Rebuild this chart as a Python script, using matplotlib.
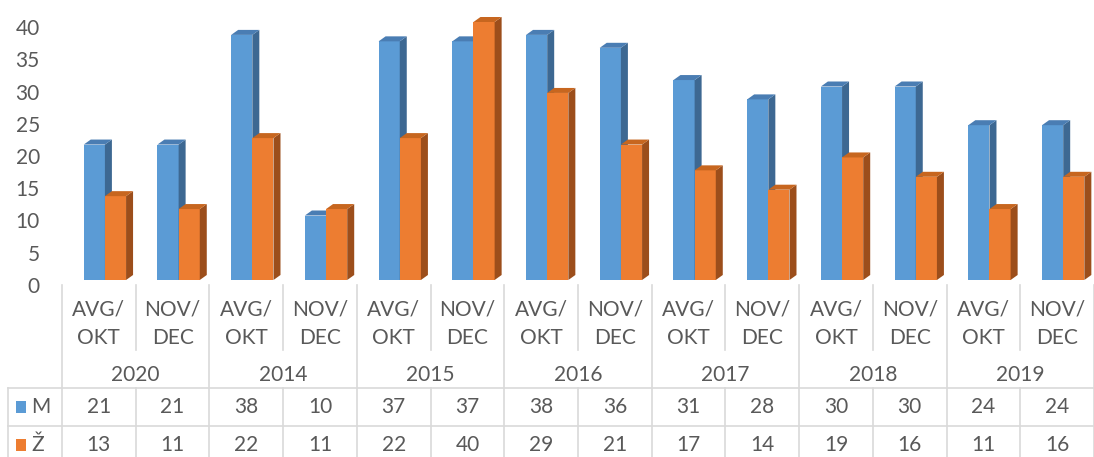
import matplotlib.pyplot as plt
import matplotlib.transforms as mtransforms
from matplotlib.patches import Polygon, Rectangle
import numpy as np

plt.rcParams['font.family'] = ['Lato', 'DejaVu Sans']

# data
years = ["2020", "2014", "2015", "2016", "2017", "2018", "2019"]
months = ["AVG/\nOKT", "NOV/\nDEC"]
m_vals = [21, 21, 38, 10, 37, 37, 38, 36, 31, 28, 30, 30, 24, 24]
z_vals = [13, 11, 22, 11, 22, 40, 29, 21, 17, 14, 19, 16, 11, 16]
series = [("M", m_vals), ("Ž", z_vals)]

W, H = 1094, 457
front = ["#5B9BD5", "#ED7D31"]
top = ["#4A7DB3", "#C7661F"]
side = ["#3D6892", "#9C4E1B"]
txt = "#595959"
grid = "#D9D9D9"
fs = 15

fig = plt.figure(figsize=(W / 100, H / 100), dpi=100)
y0, y40 = 280, 22
ax = fig.add_axes([62 / W, (H - y0) / H, (W - 62) / W, (y0 - y40) / H])
ax.set_xlim(-0.5, 13.5)
ax.set_ylim(0, 40)
for s in ax.spines.values():
    s.set_visible(False)
ax.set_xticks([])
ax.set_yticks(range(0, 41, 5))
ax.tick_params(axis='y', length=0, pad=16, labelsize=fs, labelcolor=txt)
shift = mtransforms.ScaledTranslation(0, -0.05, fig.dpi_scale_trans)
for lab in ax.get_yticklabels():
    lab.set_transform(lab.get_transform() + shift)

n = len(m_vals)
x = np.arange(n)
bw = 0.287
dx = 7 / 73.7
dy = 5 / 6.45
offs = [-0.205, -0.205 + bw]
for i in range(n):
    for k, (name, vals) in enumerate(series):
        xl = x[i] + offs[k]
        h = vals[i]
        ax.bar(xl, h, width=bw, align='edge', color=front[k], linewidth=0, clip_on=False, zorder=2)
        ax.add_patch(Polygon([(xl + bw, 0), (xl + bw + dx, dy), (xl + bw + dx, h + dy), (xl + bw, h)],
                             closed=True, facecolor=side[k], edgecolor='none', clip_on=False, zorder=2))
        ax.add_patch(Polygon([(xl, h), (xl + dx, h + dy), (xl + bw + dx, h + dy), (xl + bw, h)],
                             closed=True, facecolor=top[k], edgecolor='none', clip_on=False, zorder=2))

# category axis + data table
tr = mtransforms.blended_transform_factory(ax.transData, fig.transFigure)
def fy(py):
    return 1 - py / H

lk = dict(color=grid, lw=1.2, transform=tr, clip_on=False)
fk = dict(color=grid, lw=1.2, transform=fig.transFigure)
bounds = np.arange(n + 1) - 0.5
for j, b in enumerate(bounds):
    if j % 2 == 0:
        fig.add_artist(plt.Line2D([b, b], [fy(285), fy(H + 5)], **lk))
    else:
        fig.add_artist(plt.Line2D([b, b], [fy(285), fy(350)], **lk))
        fig.add_artist(plt.Line2D([b, b], [fy(388), fy(H + 5)], **lk))
for py in [388, 426]:
    fig.add_artist(plt.Line2D([8 / W, 1], [fy(py), fy(py)], **fk))
fig.add_artist(plt.Line2D([8 / W, 8 / W], [fy(388), fy(H + 5)], **fk))

for i in range(n):
    l1, l2 = months[i % 2].split("\n")
    fig.text(x[i], fy(310), l1, transform=tr, ha='center', va='center', fontsize=fs, color=txt)
    fig.text(x[i], fy(338), l2, transform=tr, ha='center', va='center', fontsize=fs, color=txt)
    fig.text(x[i], fy(407), str(m_vals[i]), transform=tr, ha='center', va='center', fontsize=fs, color=txt)
    fig.text(x[i], fy(445), str(z_vals[i]), transform=tr, ha='center', va='center', fontsize=fs, color=txt)
for g, yr in enumerate(years):
    fig.text(2 * g + 0.5, fy(375), yr, transform=tr, ha='center', va='center', fontsize=fs, color=txt)

for k, (name, vals) in enumerate(series):
    cy = [407, 445][k]
    fig.add_artist(Rectangle((16 / W, fy(cy + 6)), 10 / W, 12 / H, transform=fig.transFigure,
                             facecolor=front[k], edgecolor='none'))
    fig.text(31 / W, fy(cy), name, ha='left', va='center', fontsize=fs, color=txt)

fig.savefig("out.png", dpi=100)
